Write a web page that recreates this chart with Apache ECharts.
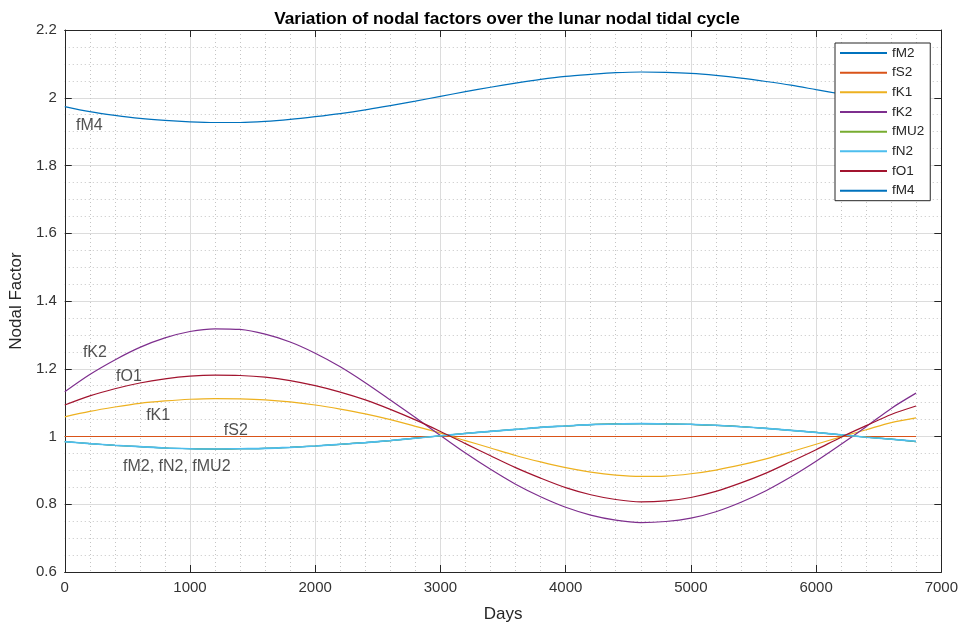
<!DOCTYPE html>
<html>
<head>
<meta charset="utf-8">
<script src="https://cdn.jsdelivr.net/npm/echarts@6/dist/echarts.min.js"></script>
<style>html,body{margin:0;padding:0;background:#fff}#c{width:961px;height:628px}</style>
</head>
<body>
<div id="c"></div>
<script>
// Days (sample points)
const days = [0, 200, 400, 600, 800, 1000, 1200, 1400, 1600, 1800, 2000, 2200, 2400, 2600, 2800, 3000, 3200, 3400,
              3600, 3800, 4000, 4200, 4400, 4600, 4800, 5000, 5200, 5400, 5600, 5800, 6000, 6200, 6400, 6600, 6798];

const fM2  = [0.985, 0.979, 0.974, 0.970, 0.966, 0.964, 0.963, 0.964, 0.965, 0.968, 0.972, 0.977, 0.982, 0.988, 0.995, 1.002, 1.009, 1.015,
              1.021, 1.027, 1.031, 1.035, 1.037, 1.038, 1.037, 1.036, 1.033, 1.029, 1.024, 1.018, 1.012, 1.005, 0.998, 0.992, 0.985];
const fS2  = [1, 1, 1, 1, 1, 1, 1, 1, 1, 1, 1, 1, 1, 1, 1, 1, 1, 1,
              1, 1, 1, 1, 1, 1, 1, 1, 1, 1, 1, 1, 1, 1, 1, 1, 1];
const fK1  = [1.058, 1.074, 1.087, 1.098, 1.105, 1.110, 1.112, 1.111, 1.108, 1.102, 1.093, 1.081, 1.067, 1.050, 1.030, 1.010, 0.988, 0.966,
              0.944, 0.925, 0.908, 0.895, 0.886, 0.882, 0.883, 0.890, 0.901, 0.916, 0.934, 0.955, 0.977, 0.999, 1.020, 1.041, 1.055];
const fK2  = [1.132, 1.183, 1.226, 1.263, 1.291, 1.310, 1.318, 1.316, 1.302, 1.279, 1.246, 1.206, 1.159, 1.108, 1.056, 1.003, 0.951, 0.903,
              0.859, 0.822, 0.791, 0.768, 0.753, 0.746, 0.749, 0.759, 0.778, 0.806, 0.840, 0.881, 0.927, 0.977, 1.029, 1.083, 1.128];
const fMU2 = [0.985, 0.979, 0.974, 0.970, 0.966, 0.964, 0.963, 0.964, 0.965, 0.968, 0.972, 0.977, 0.982, 0.988, 0.995, 1.002, 1.009, 1.015,
              1.021, 1.027, 1.031, 1.035, 1.037, 1.038, 1.037, 1.036, 1.033, 1.029, 1.024, 1.018, 1.012, 1.005, 0.998, 0.992, 0.985];
const fN2  = [0.985, 0.979, 0.974, 0.970, 0.966, 0.964, 0.963, 0.964, 0.965, 0.968, 0.972, 0.977, 0.982, 0.988, 0.995, 1.002, 1.009, 1.015,
              1.021, 1.027, 1.031, 1.035, 1.037, 1.038, 1.037, 1.036, 1.033, 1.029, 1.024, 1.018, 1.012, 1.005, 0.998, 0.992, 0.986];
const fO1  = [1.093, 1.120, 1.141, 1.158, 1.170, 1.178, 1.181, 1.180, 1.175, 1.165, 1.150, 1.131, 1.108, 1.080, 1.049, 1.015, 0.979, 0.943,
              0.908, 0.877, 0.849, 0.828, 0.814, 0.807, 0.810, 0.820, 0.838, 0.863, 0.892, 0.926, 0.961, 0.998, 1.032, 1.065, 1.090];
const fM4  = [1.974, 1.959, 1.948, 1.939, 1.933, 1.929, 1.927, 1.927, 1.930, 1.936, 1.944, 1.953, 1.964, 1.977, 1.990, 2.004, 2.018, 2.031,
              2.043, 2.054, 2.063, 2.069, 2.074, 2.076, 2.075, 2.072, 2.066, 2.058, 2.048, 2.037, 2.024, 2.011, 1.997, 1.983, 1.970];

const seriesNames = ['fM2', 'fS2', 'fK1', 'fK2', 'fMU2', 'fN2', 'fO1', 'fM4'];
const seriesValues = [fM2, fS2, fK1, fK2, fMU2, fN2, fO1, fM4];
const colors = ['#0072BD', '#D95319', '#EDB120', '#7E2F8E', '#77AC30', '#4DBEEE', '#A2142F', '#0072BD'];
const widths = [1.2, 1.2, 1.2, 1.2, 1.2, 1.6, 1.2, 1.2];

// Text annotations (data coordinates)
const annoText = ['fM4', 'fK2', 'fO1', 'fK1', 'fS2', 'fM2, fN2, fMU2'];
const annoX    = [90, 145, 410, 650, 1270, 465];
const annoY    = [1.917, 1.247, 1.177, 1.063, 1.017, 0.912];

const FONT = 'Liberation Sans, Arial, Helvetica, sans-serif';
const AX = '#262626';

const chart = echarts.init(document.getElementById('c'), null, {renderer: 'canvas'});

const series = seriesNames.map((n, i) => ({
  name: n,
  type: 'line',
  data: days.map((d, k) => [d, seriesValues[i][k]]),
  smooth: 0.3,
  showSymbol: false,
  symbol: 'none',
  lineStyle: {width: widths[i], color: colors[i]},
  itemStyle: {color: colors[i]},
  animation: false,
  z: 3 + i
}));

series.push({
  name: 'annotations',
  type: 'scatter',
  data: annoX.map((x, k) => [x, annoY[k], annoText[k]]),
  symbolSize: 0,
  silent: true,
  label: {
    show: true,
    position: 'right',
    distance: 0,
    formatter: p => p.data[2],
    fontFamily: FONT,
    fontSize: 16,
    color: '#262626'
  },
  animation: false,
  z: 20
});

const gridLine = {show: true, lineStyle: {color: '#dcdcdc', width: 1}};
const minorLine = {show: true, lineStyle: {color: '#c4c4c4', width: 1, type: [1, 3]}};

chart.setOption({
  backgroundColor: '#fff',
  animation: false,
  title: {
    text: 'Variation of nodal factors over the lunar nodal tidal cycle',
    left: 502, top: 6, textAlign: 'center',
    textStyle: {fontFamily: FONT, fontSize: 17.3, fontWeight: 'bold', color: '#000'}
  },
  legend: {
    data: seriesNames,
    orient: 'vertical',
    left: 835, top: 43,
    padding: [3, 6, 3, 5],
    itemWidth: 47, itemHeight: 2, itemGap: 5.67,
    icon: 'rect',
    backgroundColor: '#fff',
    borderColor: AX, borderWidth: 1,
    textStyle: {fontFamily: FONT, fontSize: 13.5, lineHeight: 14, color: '#262626'},
    z: 30
  },
  grid: {left: 62, right: 19, top: 30, bottom: 55, show: false},
  xAxis: [{
    type: 'value', min: 0, max: 7000, interval: 1000,
    name: 'Days', nameLocation: 'middle', nameGap: 34,
    nameTextStyle: {fontFamily: FONT, fontSize: 17, color: '#262626'},
    axisLine: {show: true, lineStyle: {color: AX, width: 1}},
    axisTick: {show: true, inside: true, length: 7, lineStyle: {color: AX}},
    axisLabel: {fontFamily: FONT, fontSize: 15, color: '#333', margin: 8, formatter: v => String(v)},
    splitLine: gridLine,
    minorTick: {show: false, splitNumber: 5},
    minorSplitLine: minorLine
  }, {
    type: 'value', min: 0, max: 7000, interval: 1000, position: 'top',
    axisLine: {show: true, onZero: false, lineStyle: {color: AX, width: 1}},
    axisTick: {show: true, inside: true, length: 7, lineStyle: {color: AX}},
    axisLabel: {show: false}, splitLine: {show: false}
  }],
  yAxis: [{
    type: 'value', min: 0.6, max: 2.2, interval: 0.2,
    name: 'Nodal Factor', nameLocation: 'middle', nameGap: 35, nameRotate: 90,
    nameTextStyle: {fontFamily: FONT, fontSize: 17, color: '#262626'},
    axisLine: {show: true, lineStyle: {color: AX, width: 1}},
    axisTick: {show: true, inside: true, length: 7, lineStyle: {color: AX}},
    axisLabel: {fontFamily: FONT, fontSize: 15, color: '#333', margin: 8,
      formatter: v => String(Math.round(v * 10) / 10)},
    splitLine: gridLine,
    minorTick: {show: false, splitNumber: 4},
    minorSplitLine: minorLine
  }, {
    type: 'value', min: 0.6, max: 2.2, interval: 0.2, position: 'right',
    axisLine: {show: true, onZero: false, lineStyle: {color: AX, width: 1}},
    axisTick: {show: true, inside: true, length: 7, lineStyle: {color: AX}},
    axisLabel: {show: false}, splitLine: {show: false}
  }],
  series: series
});
</script>
</body>
</html>
